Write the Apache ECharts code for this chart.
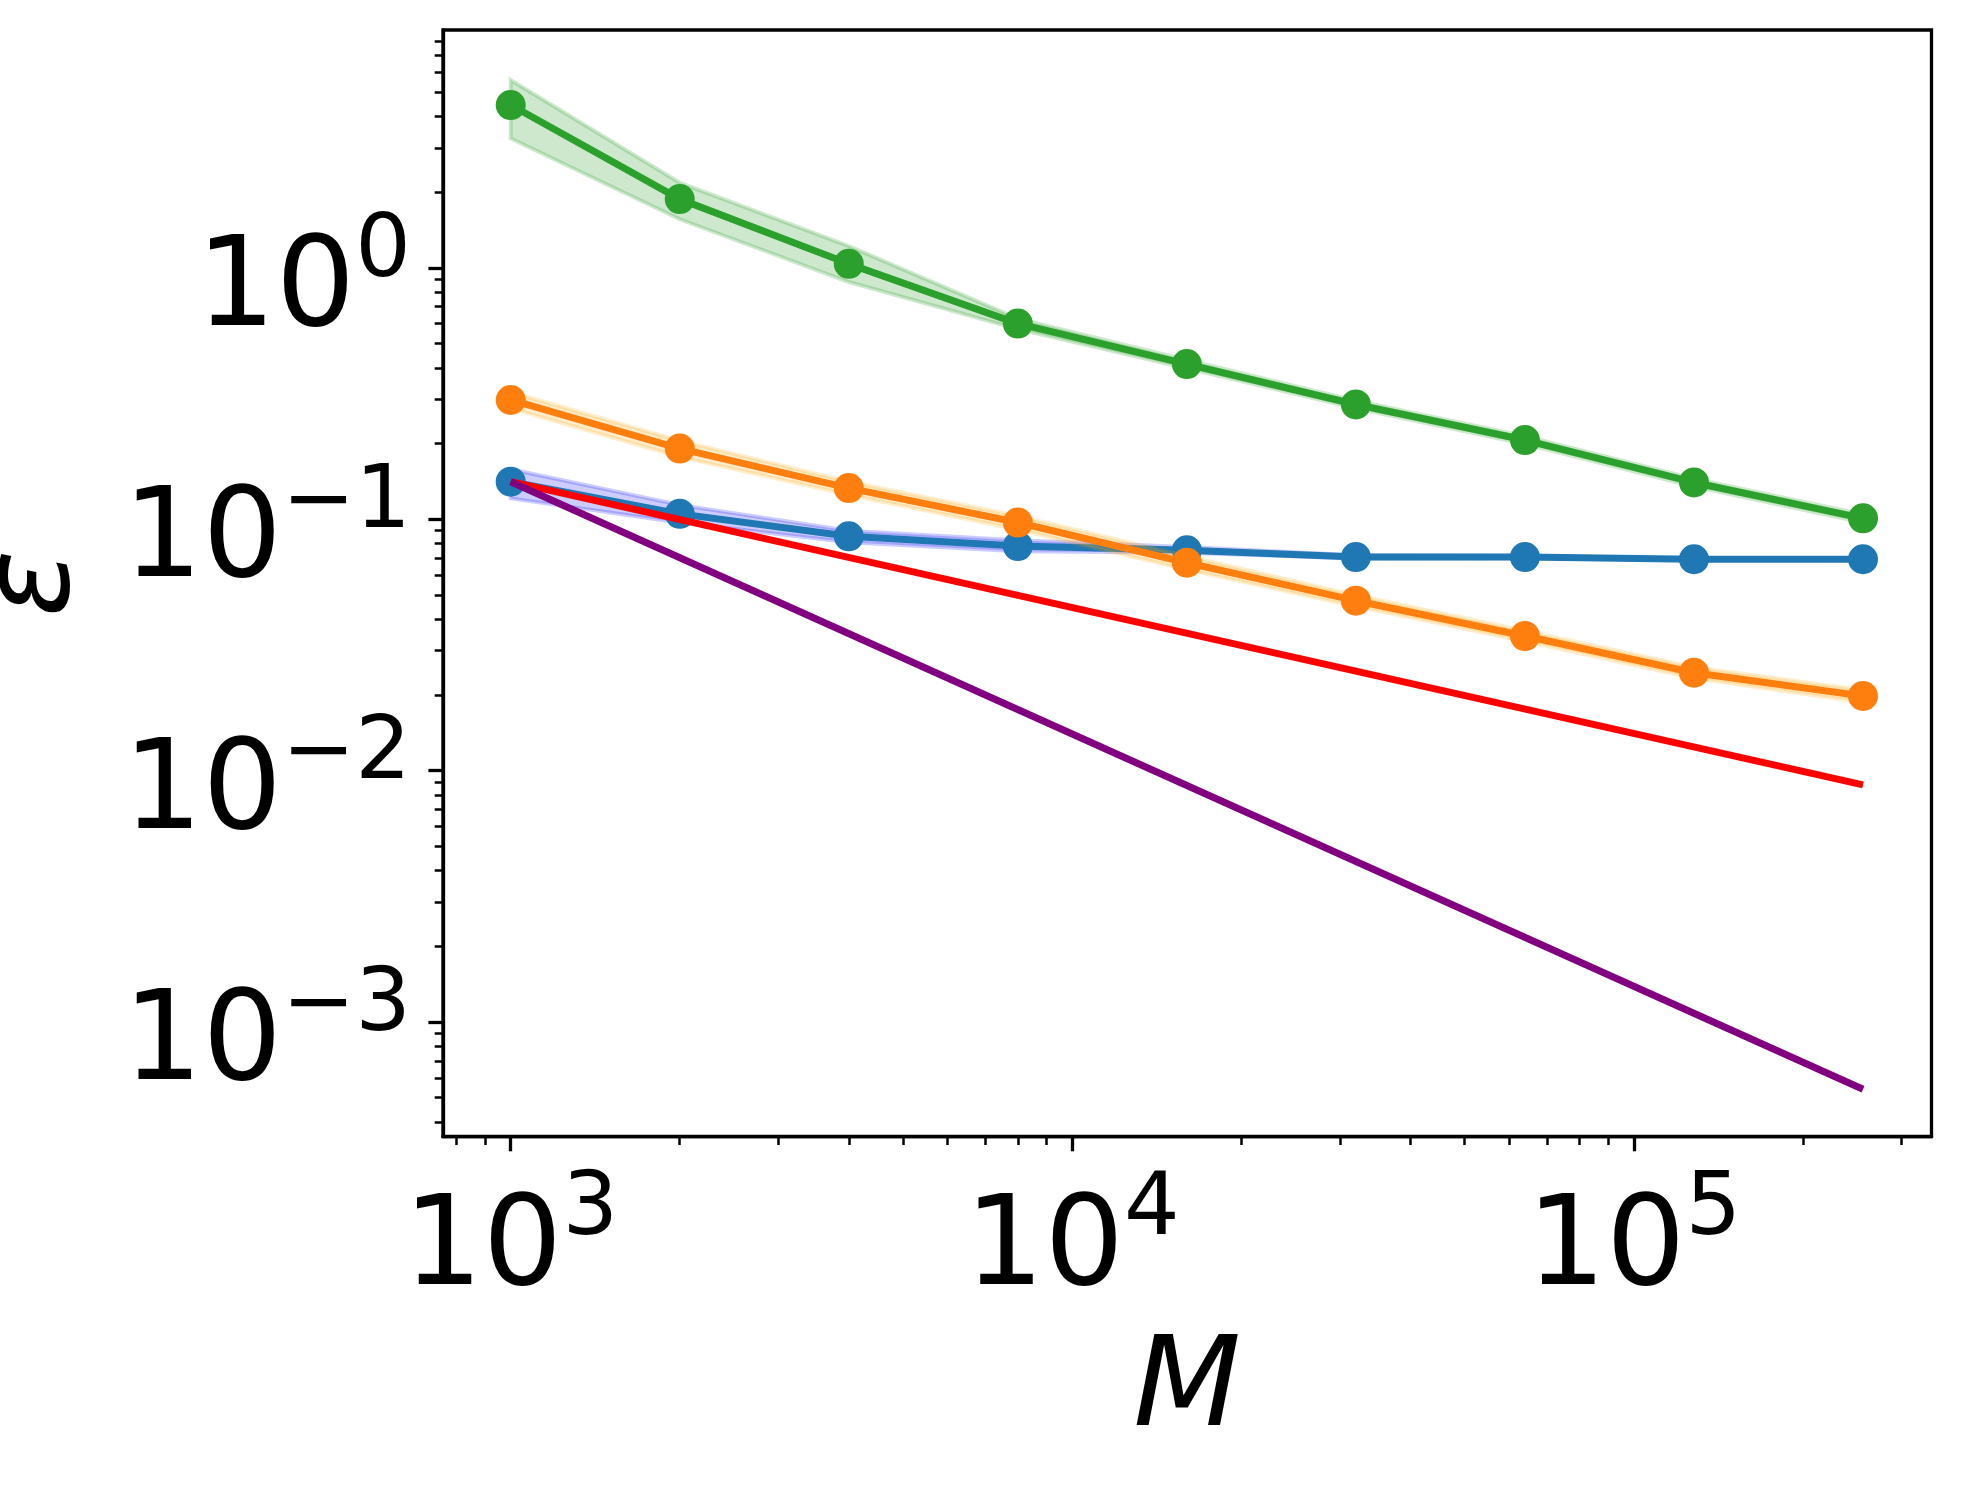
<!DOCTYPE html>
<html><head><meta charset="utf-8">
<script src="https://cdn.jsdelivr.net/npm/echarts@6/dist/echarts.min.js"></script>
<style>html,body{margin:0;padding:0;background:#fff}#c{width:1961px;height:1486px}</style>
</head><body><div id="c"></div>
<script>
// ---- data ----
const M = [1000, 2000, 4000, 8000, 16000, 32000, 64000, 128000, 256000];

const blueMean = [0.141, 0.105, 0.0855, 0.0782, 0.0752, 0.0707, 0.0707, 0.0693, 0.0693];
const blueLo   = [0.121, 0.097, 0.081, 0.0745, 0.0735, 0.0697, 0.0700, 0.0688, 0.0689];
const blueHi   = [0.158, 0.114, 0.090, 0.0825, 0.0775, 0.0718, 0.0714, 0.0698, 0.0697];

const orangeMean = [0.298, 0.191, 0.133, 0.097, 0.0671, 0.0474, 0.0343, 0.0245, 0.0198];
const orangeLo   = [0.276, 0.177, 0.125, 0.091, 0.0630, 0.0450, 0.0327, 0.0233, 0.0187];
const orangeHi   = [0.320, 0.205, 0.141, 0.103, 0.0712, 0.0498, 0.0360, 0.0258, 0.0209];

const greenMean = [4.44, 1.876, 1.037, 0.600, 0.414, 0.286, 0.2065, 0.140, 0.1008];
const greenLo   = [3.27, 1.56, 0.878, 0.570, 0.398, 0.276, 0.199, 0.135, 0.0970];
const greenHi   = [5.58, 2.18, 1.22, 0.628, 0.430, 0.296, 0.214, 0.145, 0.1045];

const refM = [1000, 256000];
const redRef = [0.141, 0.00877];
const purpleRef = [0.141, 0.00054];

// axis ticks / labels
const xMajor = [1e3, 1e4, 1e5];
const xMajorExp = ['3', '4', '5'];
const xMinor = [800, 900, 2000, 3000, 4000, 5000, 6000, 7000, 8000, 9000,
  20000, 30000, 40000, 50000, 60000, 70000, 80000, 90000, 200000, 300000];
const yMajor = [1, 0.1, 0.01, 0.001];
const yMajorExp = ['0', '\u22121', '\u22122', '\u22123'];
const yMinor = [4e-4, 5e-4, 6e-4, 7e-4, 8e-4, 9e-4,
  2e-3, 3e-3, 4e-3, 5e-3, 6e-3, 7e-3, 8e-3, 9e-3,
  2e-2, 3e-2, 4e-2, 5e-2, 6e-2, 7e-2, 8e-2, 9e-2,
  0.2, 0.3, 0.4, 0.5, 0.6, 0.7, 0.8, 0.9, 2, 3, 4, 5, 6, 7, 8];
const xMin = 757.6, xMax = 339000;
const yMin = 3.497e-4, yMax = 8.83;

// ---- chart ----
const FONT = 'DejaVu Sans';
const rich = {
  b: {fontFamily: FONT, fontSize: 125, lineHeight: 146, verticalAlign: 'bottom', color: '#000'},
  s: {fontFamily: FONT, fontSize: 87.5, verticalAlign: 'top', color: '#000'}
};
function fmt(majors, exps) {
  return function (v) {
    const e = Math.round(Math.log10(v));
    const i = majors.findIndex(t => Math.round(Math.log10(t)) === e);
    return '{b|10}{s|' + (i >= 0 ? exps[i] : '') + '}';
  };
}
function bandSeries(lo, hi, fill, edge, z) {
  const rows = M.map((m, i) => [m, lo[i], hi[i]]);
  return {
    type: 'custom', data: rows, encode: {x: 0, y: [1, 2]}, z: z, silent: true,
    renderItem: function (params, api) {
      if (params.dataIndex !== 0) return null;
      const pts = [];
      for (let i = 0; i < rows.length; i++) pts.push(api.coord([rows[i][0], rows[i][1]]));
      for (let i = rows.length - 1; i >= 0; i--) pts.push(api.coord([rows[i][0], rows[i][2]]));
      return {type: 'polygon', shape: {points: pts}, style: {fill: fill, stroke: edge, lineWidth: 4}};
    }
  };
}
function lineSeries(xs, ys, color, z, marker) {
  return {
    type: 'line', data: xs.map((m, i) => [m, ys[i]]), z: z,
    symbol: marker ? 'circle' : 'none', symbolSize: 30, showSymbol: !!marker,
    lineStyle: {color: color, width: 7, cap: 'butt'},
    itemStyle: {color: color}, emphasis: {disabled: true}, silent: true
  };
}

const chart = echarts.init(document.getElementById('c'), null, {renderer: 'canvas'});
chart.setOption({
  animation: false,
  backgroundColor: '#fff',
  grid: {left: 443, top: 30, right: 29.5, bottom: 349.3, show: true, borderColor: '#000', borderWidth: 3.3,
    containLabel: false, outerBoundsMode: 'none'},
  xAxis: [{
    type: 'log', logBase: 10, min: xMin, max: xMax, position: 'bottom',
    name: 'M', nameLocation: 'middle', nameGap: 193,
    nameTextStyle: {fontFamily: FONT, fontStyle: 'italic', fontSize: 125, color: '#000'},
    axisLine: {show: true, onZero: false, lineStyle: {color: '#000', width: 3.3}},
    axisTick: {show: true, length: 14.6, lineStyle: {color: '#000', width: 3.3}, customValues: xMajor},
    axisLabel: {show: true, customValues: xMajor, margin: 31, formatter: fmt(xMajor, xMajorExp), rich: rich},
    splitLine: {show: false}, minorTick: {show: false}
  }, {
    type: 'log', logBase: 10, min: xMin, max: xMax, position: 'bottom',
    axisLine: {show: false},
    axisTick: {show: true, length: 8.3, lineStyle: {color: '#000', width: 2.5}, customValues: xMinor},
    axisLabel: {show: false}, splitLine: {show: false}
  }],
  yAxis: [{
    type: 'log', logBase: 10, min: yMin, max: yMax, position: 'left',
    name: '\u03b5', nameLocation: 'middle', nameGap: 345, nameRotate: 90,
    nameTextStyle: {fontFamily: FONT, fontStyle: 'italic', fontSize: 125, color: '#000'},
    axisLine: {show: true, onZero: false, lineStyle: {color: '#000', width: 3.3}},
    axisTick: {show: true, length: 14.6, lineStyle: {color: '#000', width: 3.3}, customValues: yMajor},
    axisLabel: {show: true, customValues: yMajor, margin: 32, padding: [28, 0, 0, 0],
      formatter: fmt(yMajor, yMajorExp), rich: rich},
    splitLine: {show: false}, minorTick: {show: false}
  }, {
    type: 'log', logBase: 10, min: yMin, max: yMax, position: 'left',
    axisLine: {show: false},
    axisTick: {show: true, length: 8.3, lineStyle: {color: '#000', width: 2.5}, customValues: yMinor},
    axisLabel: {show: false}, splitLine: {show: false}
  }],
  series: [
    bandSeries(blueLo, blueHi, 'rgba(0,0,255,0.2)', 'rgba(0,0,255,0.2)', 1),
    lineSeries(M, blueMean, '#1f77b4', 2, true),
    bandSeries(orangeLo, orangeHi, 'rgba(255,165,0,0.2)', 'rgba(255,165,0,0.2)', 3),
    lineSeries(M, orangeMean, '#ff7f0e', 4, true),
    bandSeries(greenLo, greenHi, 'rgba(44,160,44,0.24)', 'rgba(44,160,44,0.24)', 5),
    lineSeries(M, greenMean, '#2ca02c', 6, true),
    lineSeries(refM, redRef, '#ff0000', 7, false),
    lineSeries(refM, purpleRef, '#800080', 8, false)
  ]
});
</script>
</body></html>
